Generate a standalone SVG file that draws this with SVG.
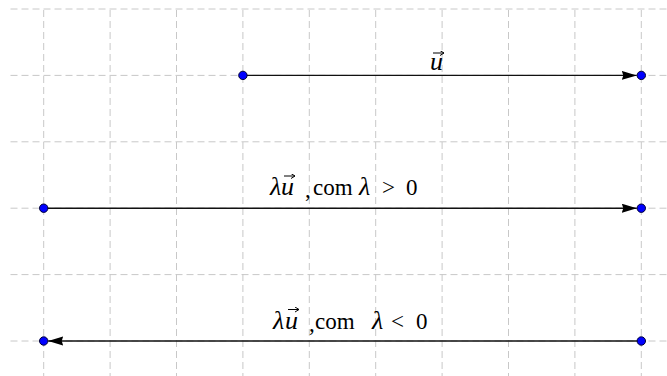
<svg xmlns="http://www.w3.org/2000/svg" width="667" height="376" viewBox="0 0 667 376">
<style>
.grid line{stroke:#c8c8c8;stroke-width:1;stroke-dasharray:7 4;fill:none}
.vec{stroke:#111;stroke-width:1.4;fill:none}
.pt{fill:#0000ff;stroke:#000033;stroke-width:1}
.acc{stroke:#000;stroke-width:1;fill:none}
.lbl{font-family:"Liberation Serif","DejaVu Serif",serif;font-size:23px;fill:#000}
.it{font-style:italic;font-size:26px}
</style>
<defs>
<marker id="ah" markerUnits="userSpaceOnUse" markerWidth="16" markerHeight="10" refX="15" refY="4.5" orient="auto">
<polygon points="0,0 15,4.5 0,9 1.5,4.5" fill="#000"/>
</marker>
<marker id="acc" markerUnits="userSpaceOnUse" markerWidth="6" markerHeight="6" refX="4" refY="2.5" orient="auto">
<path d="M0,0 L4,2.5 L0,5" fill="none" stroke="#000" stroke-width="1"/>
</marker>
</defs>
<rect width="667" height="376" fill="#fff"/>
<g id="grid" class="grid">
<line x1="10.5" y1="9" x2="667" y2="9"/>
<line x1="10.5" y1="75.4" x2="667" y2="75.4"/>
<line x1="10.5" y1="141.8" x2="667" y2="141.8"/>
<line x1="10.5" y1="208.2" x2="667" y2="208.2"/>
<line x1="10.5" y1="274.6" x2="667" y2="274.6"/>
<line x1="10.5" y1="341" x2="667" y2="341"/>
<line x1="43.7" y1="10" x2="43.7" y2="376"/>
<line x1="110.1" y1="10" x2="110.1" y2="376"/>
<line x1="176.5" y1="10" x2="176.5" y2="376"/>
<line x1="242.9" y1="10" x2="242.9" y2="376"/>
<line x1="309.3" y1="10" x2="309.3" y2="376"/>
<line x1="375.7" y1="10" x2="375.7" y2="376"/>
<line x1="442.1" y1="10" x2="442.1" y2="376"/>
<line x1="508.5" y1="10" x2="508.5" y2="376"/>
<line x1="574.9" y1="10" x2="574.9" y2="376"/>
<line x1="641.3" y1="10" x2="641.3" y2="376"/>
</g>
<g id="connectors">
<line class="vec" x1="242.9" y1="75.4" x2="636.8" y2="75.4" marker-end="url(#ah)"/>
<line class="vec" x1="43.7" y1="208.2" x2="636.8" y2="208.2" marker-end="url(#ah)"/>
<line class="vec" x1="641.3" y1="341" x2="48.2" y2="341" marker-end="url(#ah)"/>
</g>
<g id="p1"><circle class="pt" cx="242.9" cy="75.4" r="4.2"/></g>
<g id="p2"><circle class="pt" cx="641.3" cy="75.4" r="4.2"/></g>
<g id="p3"><circle class="pt" cx="43.7" cy="208.2" r="4.2"/></g>
<g id="p4"><circle class="pt" cx="641.3" cy="208.2" r="4.2"/></g>
<g id="p5"><circle class="pt" cx="43.7" cy="341" r="4.2"/></g>
<g id="p6"><circle class="pt" cx="641.3" cy="341" r="4.2"/></g>
<g id="labels">
<text class="lbl it" x="430" y="69.5">u</text>
<line class="acc" x1="433" y1="53" x2="444" y2="53" marker-end="url(#acc)"/>
<text class="lbl" y="195"><tspan class="it" x="270">λ</tspan><tspan class="it" x="281">u</tspan><tspan x="305" dy="2">,</tspan><tspan x="313" dy="-2">com</tspan><tspan class="it" x="359">λ</tspan><tspan x="382">&gt;</tspan><tspan x="406">0</tspan></text>
<line class="acc" x1="284" y1="176" x2="295" y2="176" marker-end="url(#acc)"/>
<text class="lbl" y="328.5"><tspan class="it" x="273">λ</tspan><tspan class="it" x="285">u</tspan><tspan x="309" dy="2">,</tspan><tspan x="315" dy="-2">com</tspan><tspan class="it" x="372">λ</tspan><tspan x="391">&lt;</tspan><tspan x="416">0</tspan></text>
<line class="acc" x1="288" y1="309.5" x2="299" y2="309.5" marker-end="url(#acc)"/>
</g>
</svg>
